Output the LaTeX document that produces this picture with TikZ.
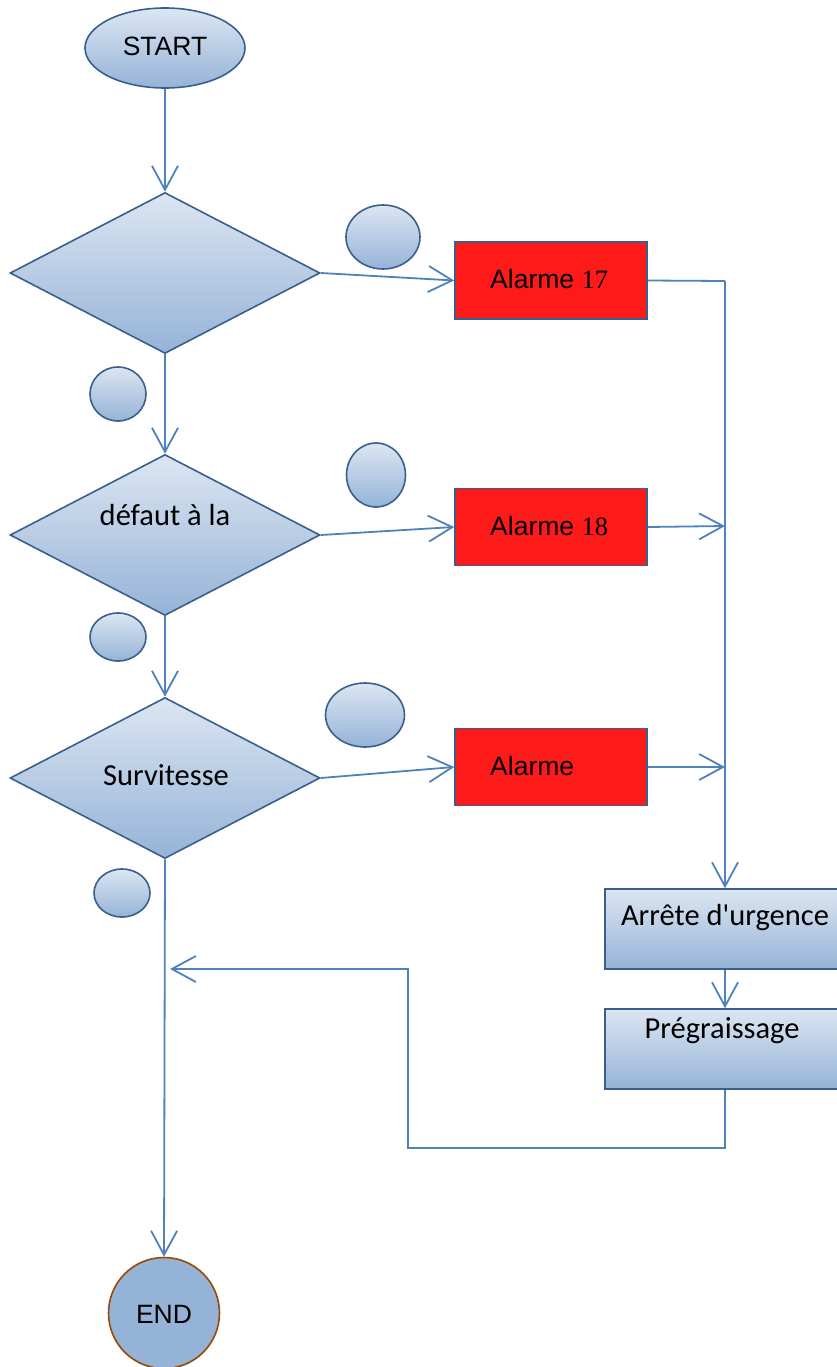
\documentclass[tikz,border=0pt]{standalone}
\usepackage{fontspec}
\setmainfont{Liberation Sans}
\newfontfamily\calfont{Carlito}
\newfontfamily\serfont{Liberation Serif}
\usetikzlibrary{shapes.geometric,arrows.meta}
\definecolor{lineC}{HTML}{4F81BD}
\definecolor{borderC}{HTML}{3A5F8C}
\definecolor{gradTop}{HTML}{DCE6F2}
\definecolor{gradBot}{HTML}{95B3D7}
\definecolor{alarmRed}{HTML}{FF1A1A}
\definecolor{endBorder}{HTML}{984807}
\begin{document}
\begin{tikzpicture}[x=1pt,y=-1pt,
  shaded/.style={draw=borderC,line width=1.6pt,top color=gradTop,bottom color=gradBot},
  decision/.style={shaded,diamond,shape aspect=1.93,minimum width=310pt,minimum height=161pt,inner sep=0pt},
  bubble/.style={shaded,ellipse,inner sep=0pt},
  alarmbox/.style={draw=borderC,line width=1.6pt,fill=alarmRed,rectangle,minimum width=192pt,minimum height=77pt,inner sep=0pt},
  stepbox/.style={shaded,rectangle,minimum width=240pt,minimum height=80pt,inner sep=0pt},
  arialtxt/.style={font=\fontsize{26.5}{31}\selectfont,inner sep=0pt},
  calitxt/.style={font=\calfont\fontsize{30.5}{36}\selectfont,inner sep=0pt},
  conn/.style={draw=lineC,line width=1.8pt},
  arr/.style={conn,-{Straight Barb[length=24pt,width=26pt]}}
]
\useasboundingbox (0,0) rectangle (837,1367);

% start and end terminals
\node[shaded,ellipse,minimum width=160pt,minimum height=80pt,inner sep=0pt] (start) at (165,48) {};
\node[arialtxt,anchor=base] (starttxt) at (165,56) {START};
\node[circle,draw=endBorder,line width=1.6pt,fill=gradBot,minimum size=111pt,inner sep=0pt] (end) at (164,1313) {};
\node[arialtxt,anchor=base] (endtxt) at (164,1323) {END};

% decisions
\node[decision] (d1) at (165,273) {};
\node[decision] (d2) at (165,535) {};
\node[calitxt,anchor=base] (d2txt) at (165,525) {défaut à la};
\node[decision] (d3) at (165,778) {};
\node[calitxt,anchor=base] (d3txt) at (166,785) {Survitesse};

% small bubbles
\node[bubble,minimum width=74pt,minimum height=64pt] (b1) at (383,237) {};
\node[bubble,minimum width=56pt,minimum height=54pt] (b2) at (118,394) {};
\node[bubble,minimum width=59pt,minimum height=64pt] (b3) at (376,475) {};
\node[bubble,minimum width=56pt,minimum height=48pt] (b4) at (118,637) {};
\node[bubble,minimum width=79pt,minimum height=64pt] (b5) at (365,715) {};
\node[bubble,minimum width=56pt,minimum height=48pt] (b6) at (122,893) {};

% alarm boxes
\node[alarmbox] (a1) at (551,280.5) {};
\node[arialtxt,anchor=base west] (a1txt) at (490,288) {Alarme {\serfont 17}};
\node[alarmbox] (a2) at (551,527) {};
\node[arialtxt,anchor=base west] (a2txt) at (490,535) {Alarme {\serfont 18}};
\node[alarmbox] (a3) at (551,767) {};
\node[arialtxt,anchor=base west] (a3txt) at (490,775) {Alarme};

% emergency stop and pre-lubrication
\node[stepbox] (stop) at (725,929) {};
\node[calitxt,anchor=base] (stoptxt) at (725,925) {Arrête d'urgence};
\node[stepbox] (pre) at (725,1049) {};
\node[calitxt,anchor=base] (pretxt) at (722,1038) {Prégraissage};

% junction points
\coordinate (j1) at (725,281);
\coordinate (j2) at (725,526);
\coordinate (j3) at (725,767);
\coordinate (loopB) at (725,1148);
\coordinate (loopL) at (408,1148);
\coordinate (loopT) at (408,969);
\coordinate (loopEnd) at (170,969);

% main flow
\draw[arr] (start.south) -- (d1.north);
\draw[arr] (d1.south) -- (d2.north);
\draw[arr] (d2.south) -- (d3.north);
\draw[arr] (d3.south) -- (end.north);

% alarm branches
\draw[arr] (d1.east) -- (a1.west);
\draw[arr] (d2.east) -- (a2.west);
\draw[arr] (d3.east) -- (a3.west);
\draw[conn] (a1.east) -- (j1);
\draw[arr] (j1) -- (stop.north);
\draw[arr] (a2.east) -- (j2);
\draw[arr] (a3.east) -- (j3);

% stop sequence and return loop
\draw[arr] (stop.south) -- (pre.north);
\draw[arr] (pre.south) -- (loopB) -- (loopL) -- (loopT) -- (loopEnd);
\end{tikzpicture}
\end{document}
